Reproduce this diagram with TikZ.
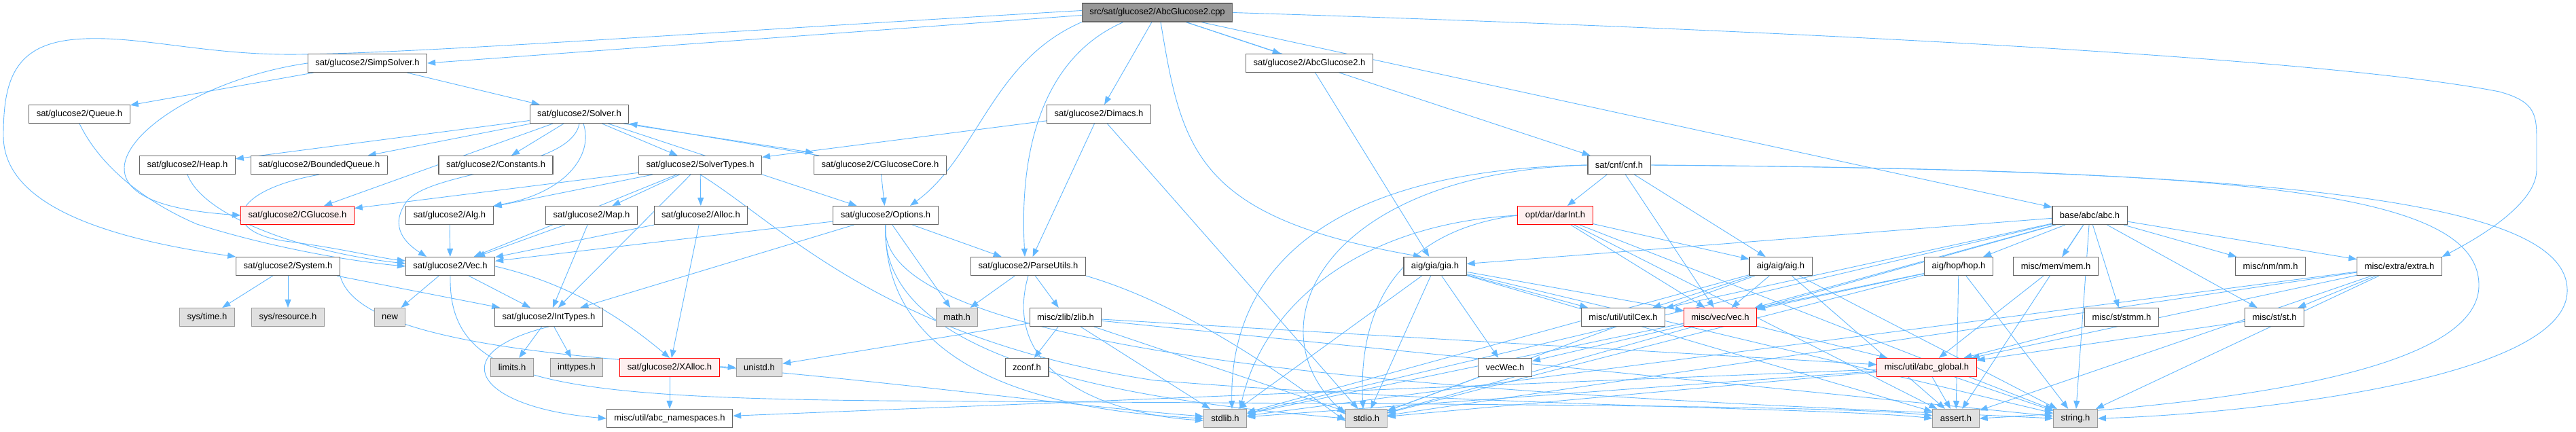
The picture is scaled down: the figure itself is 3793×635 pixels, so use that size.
\documentclass[tikz,border=0pt]{standalone}
\usepackage{fontspec}
\setmainfont{Liberation Sans}
\usetikzlibrary{arrows.meta,backgrounds}

\definecolor{incEdge}{HTML}{63B8FF}
\definecolor{incLine}{HTML}{666666}
\definecolor{incSys}{HTML}{E0E0E0}
\definecolor{incSysLine}{HTML}{999999}
\definecolor{incTrunc}{HTML}{FFF0F0}
\definecolor{incRoot}{HTML}{999999}

\tikzset{
  hdr/.style={
    draw=incLine, fill=white, line width=1.1pt, minimum height=27pt,
    inner xsep=11pt, inner ysep=0pt, font=\fontsize{13}{15}\selectfont
  },
  syshdr/.style={hdr, draw=incSysLine, fill=incSys},
  trunchdr/.style={hdr, draw=red, fill=incTrunc},
  roothdr/.style={hdr, fill=incRoot},
  dep/.style={-{Triangle[length=12pt,width=9pt]}, incEdge, line width=0.9pt}
}

\begin{document}
\begin{tikzpicture}[x=1pt,y=-1pt]
  \useasboundingbox (0,0) rectangle (3793,635);

  % source file
  \node[roothdr] (cpp) at (1704,18.5) {src/sat/glucose2/AbcGlucose2.cpp};

  % glucose2 headers
  \node[hdr] (simp) at (541,93) {sat/glucose2/SimpSolver.h};
  \node[hdr] (abch) at (1928,93) {sat/glucose2/AbcGlucose2.h};
  \node[hdr] (queue) at (117,168) {sat/glucose2/Queue.h};
  \node[hdr] (solver) at (853,168) {sat/glucose2/Solver.h};
  \node[hdr] (dimacs) at (1618,168) {sat/glucose2/Dimacs.h};
  \node[hdr] (heap) at (276,243) {sat/glucose2/Heap.h};
  \node[hdr] (bqueue) at (470,243) {sat/glucose2/BoundedQueue.h};
  \node[hdr] (consts) at (730,243) {sat/glucose2/Constants.h};
  \node[hdr] (stypes) at (1031,243) {sat/glucose2/SolverTypes.h};
  \node[hdr] (core) at (1296,243) {sat/glucose2/CGlucoseCore.h};
  \node[trunchdr] (cgluc) at (438,317) {sat/glucose2/CGlucose.h};
  \node[hdr] (alg) at (662,317) {sat/glucose2/Alg.h};
  \node[hdr] (map) at (871,317) {sat/glucose2/Map.h};
  \node[hdr] (alloc) at (1032,317) {sat/glucose2/Alloc.h};
  \node[hdr] (options) at (1304,317) {sat/glucose2/Options.h};
  \node[hdr] (system) at (424,392) {sat/glucose2/System.h};
  \node[hdr] (vec) at (663,392) {sat/glucose2/Vec.h};
  \node[hdr] (parse) at (1514,392) {sat/glucose2/ParseUtils.h};
  \node[hdr] (itypes) at (808,467) {sat/glucose2/IntTypes.h};
  \node[trunchdr] (xalloc) at (986,541) {sat/glucose2/XAlloc.h};

  % abc headers
  \node[hdr] (cnf) at (2384,243) {sat/cnf/cnf.h};
  \node[trunchdr] (darint) at (2290,317) {opt/dar/darInt.h};
  \node[hdr] (abc) at (3077,317) {base/abc/abc.h};
  \node[hdr] (gia) at (2113,392) {aig/gia/gia.h};
  \node[hdr] (aig) at (2622,392) {aig/aig/aig.h};
  \node[hdr] (hop) at (2884,392) {aig/hop/hop.h};
  \node[hdr] (mem) at (3027,392) {misc/mem/mem.h};
  \node[hdr] (nm) at (3343,392) {misc/nm/nm.h};
  \node[hdr] (extra) at (3533,392) {misc/extra/extra.h};
  \node[hdr] (zlib) at (1569,467) {misc/zlib/zlib.h};
  \node[hdr] (cex) at (2390,467) {misc/util/utilCex.h};
  \node[trunchdr] (vecvec) at (2533,467) {misc/vec/vec.h};
  \node[hdr] (stmm) at (3124,467) {misc/st/stmm.h};
  \node[hdr] (st) at (3349,467) {misc/st/st.h};
  \node[hdr] (zconf) at (1512,541) {zconf.h};
  \node[hdr] (vecwec) at (2216,541) {vecWec.h};
  \node[trunchdr] (global) at (2837,541) {misc/util/abc\_global.h};
  \node[hdr] (ns) at (986,616) {misc/util/abc\_namespaces.h};

  % system headers
  \node[syshdr] (systime) at (305,467) {sys/time.h};
  \node[syshdr] (sysres) at (424,467) {sys/resource.h};
  \node[syshdr] (new) at (574,467) {new};
  \node[syshdr] (math) at (1409,467) {math.h};
  \node[syshdr] (limits) at (754,541) {limits.h};
  \node[syshdr] (inttypes) at (849,541) {inttypes.h};
  \node[syshdr] (unistd) at (1118,541) {unistd.h};
  \node[syshdr] (stdlib) at (1804,616) {stdlib.h};
  \node[syshdr] (stdio) at (2012,616) {stdio.h};
  \node[syshdr] (assert) at (2880,616) {assert.h};
  \node[syshdr] (string) at (3056,616) {string.h};

  \begin{pgfonlayer}{background}
    % AbcGlucose2.cpp
    \draw[dep] ([yshift=-4pt]cpp.west) -- (simp.east);
    \draw[dep] ([yshift=3pt]cpp.west) .. controls (1000,50) and (620,78) .. (440,80)
      .. controls (300,82) and (200,50) .. (110,58) .. controls (20,66) and (5,120) .. (5,200)
      .. controls (5,300) and (150,350) .. (system.north west);
    \draw[dep] (cpp.south west) .. controls (1460,90) and (1440,230) .. ([xshift=36pt]options.north);
    \draw[dep] ([xshift=-50pt]cpp.south) .. controls (1500,100) and (1505,300) .. ([xshift=-5pt]parse.north);
    \draw[dep] (cpp) -- (dimacs);
    \draw[dep] ([xshift=5pt]cpp.south) .. controls (1740,220) and (1760,320) .. ([xshift=-20pt]gia.north);
    \draw[dep] (cpp) -- (abch);
    \draw[dep] (cpp) -- (cnf);
    \draw[dep] (cpp) -- (abc);
    \draw[dep] (cpp.east) .. controls (2500,40) and (3400,80) .. (3680,135)
      .. controls (3735,150) and (3735,170) .. (3735,210) -- (3735,250)
      .. controls (3735,300) and (3650,350) .. (extra.north east);
    \draw[dep] (abch) -- (gia);

    % SimpSolver.h and Solver.h
    \draw[dep] (simp) -- (queue);
    \draw[dep] (simp) -- (solver);
    \draw[dep] (simp.west) .. controls (300,115) and (170,200) .. (184,257)
      .. controls (195,300) and (280,312) .. (cgluc.west);
    \draw[dep] (queue.south) .. controls (150,250) and (220,300) .. (290,330)
      .. controls (400,365) and (520,385) .. (vec.west);
    \draw[dep] (solver) -- (heap);
    \draw[dep] (solver) -- (bqueue);
    \draw[dep] (solver) -- (consts);
    \draw[dep] (solver) -- (stypes);
    \draw[dep] ([xshift=-8pt]solver.south east) -- ([yshift=4pt]core.north west);
    \draw[dep] ([xshift=8pt]core.north west) -- (solver.south east);
    \draw[dep] ([xshift=6pt]solver.south) .. controls (875,230) and (830,285) .. (alg.north east);
    \draw[dep] (solver) -- (options);
    \draw[dep] (solver) -- (cgluc);
    \draw[dep] (solver.south) .. controls (840,250) and (640,250) .. (600,295)
      .. controls (570,335) and (600,360) .. ([xshift=-35pt]vec.north);
    \draw[dep] (core) -- (options);
    \draw[dep] (heap.south) .. controls (300,320) and (450,372) .. ([yshift=4pt]vec.west);
    \draw[dep] (bqueue.south) .. controls (340,280) and (320,340) .. (420,355)
      .. controls (500,365) and (560,380) .. ([yshift=8pt]vec.west);

    % Dimacs.h and SolverTypes.h
    \draw[dep] (dimacs) -- (parse);
    \draw[dep] (dimacs) -- (stypes);
    \draw[dep] (dimacs) -- (stdio);
    \draw[dep] (stypes) -- (itypes);
    \draw[dep] (stypes) -- (alg);
    \draw[dep] (stypes) -- (vec);
    \draw[dep] (stypes) -- (map);
    \draw[dep] (stypes) -- (alloc);
    \draw[dep] (stypes) -- (cgluc);
    \draw[dep] (stypes.south) .. controls (1150,330) and (1300,500) .. (1700,560)
      .. controls (2200,600) and (2700,600) .. (assert.west);
    \draw[dep] (alg) -- (vec);
    \draw[dep] (map) -- (vec);
    \draw[dep] (map) -- (itypes);
    \draw[dep] (alloc) -- (vec);
    \draw[dep] (alloc) -- (xalloc);

    % Options.h and ParseUtils.h
    \draw[dep] (options) -- (itypes);
    \draw[dep] (options) -- (vec);
    \draw[dep] (options) -- (parse);
    \draw[dep] (options) -- (math);
    \draw[dep] (options.south) .. controls (1300,500) and (1450,600) .. (stdlib.west);
    \draw[dep] (options.south) .. controls (1290,540) and (1700,592) .. (stdio.west);
    \draw[dep] (options.south) .. controls (1280,560) and (2500,590) .. (string.west);
    \draw[dep] (parse) -- (math);
    \draw[dep] (parse) -- (zlib);
    \draw[dep] (parse.south) .. controls (1470,560) and (1650,612) .. ([yshift=-3pt]stdlib.west);
    \draw[dep] (parse.south east) .. controls (1750,450) and (1900,560) .. ([yshift=-4pt]stdio.west);
    \draw[dep] (zlib) -- (zconf);
    \draw[dep] (zlib) -- (unistd);
    \draw[dep] (zlib) -- (stdlib);
    \draw[dep] (zlib) -- (stdio);
    \draw[dep] (zlib) -- (global);
    \draw[dep] (zlib) -- (string);

    % System.h, Vec.h, IntTypes.h, XAlloc.h
    \draw[dep] (system) -- (systime);
    \draw[dep] (system) -- (sysres);
    \draw[dep] (system) -- (itypes);
    \draw[dep] (system.south east) .. controls (520,480) and (700,520) .. (unistd.west);
    \draw[dep] (vec) -- (new);
    \draw[dep] (vec) -- (itypes);
    \draw[dep] (vec.east) .. controls (850,420) and (930,480) .. (xalloc.north);
    \draw[dep] (vec.south) .. controls (660,560) and (800,585) .. (1300,590)
      .. controls (2000,595) and (2700,595) .. ([yshift=4pt]assert.west);
    \draw[dep] (itypes) -- (limits);
    \draw[dep] (itypes) -- (inttypes);
    \draw[dep] (itypes.south) .. controls (650,520) and (700,600) .. (ns.west);
    \draw[dep] (xalloc) -- (ns);
    \draw[dep] (xalloc.east) .. controls (1300,560) and (1600,600) .. ([yshift=3pt]stdlib.west);

    % cnf.h and darInt.h
    \draw[dep] (cnf) -- (darint);
    \draw[dep] (cnf) -- (vecvec);
    \draw[dep] (cnf) -- (aig);
    \draw[dep] (cnf.west) .. controls (1950,255) and (1840,480) .. ([yshift=6pt]stdio.west);
    \draw[dep] (cnf.west) .. controls (1950,250) and (1810,400) .. ([xshift=10pt]stdlib.north);
    \draw[dep] (cnf.east) .. controls (3300,250) and (3650,280) .. (3650,420)
      .. controls (3650,560) and (3200,600) .. (assert.east);
    \draw[dep] (cnf.east) .. controls (3400,250) and (3785,300) .. (3780,430)
      .. controls (3775,560) and (3300,610) .. (string.east);
    \draw[dep] (darint.west) .. controls (2060,340) and (2000,450) .. ([xshift=-5pt]stdio.north);
    \draw[dep] (darint.west) .. controls (2000,330) and (1860,450) .. ([xshift=22pt]stdlib.north);
    \draw[dep] (darint) -- (string);
    \draw[dep] (darint) -- (assert);
    \draw[dep] (darint) -- (vecvec);
    \draw[dep] (darint) -- (aig);

    % gia.h, aig.h, hop.h
    \draw[dep] (gia) -- (stdlib);
    \draw[dep] (gia) -- (stdio);
    \draw[dep] (gia) -- (assert);
    \draw[dep] (gia) -- (string);
    \draw[dep] (gia) -- (vecwec);
    \draw[dep] (gia) -- (vecvec);
    \draw[dep] (gia) -- (cex);
    \draw[dep] (aig) -- (vecvec);
    \draw[dep] (aig) -- (cex);
    \draw[dep] (aig) -- (stdio);
    \draw[dep] (aig) -- (stdlib);
    \draw[dep] (aig) -- (string);
    \draw[dep] (aig) -- (assert);
    \draw[dep] (hop) -- (vecvec);
    \draw[dep] (hop) -- (stdio);
    \draw[dep] (hop) -- (stdlib);
    \draw[dep] (hop) -- (string);
    \draw[dep] (hop) -- (assert);

    % abc.h
    \draw[dep] (abc) -- (gia);
    \draw[dep] (abc) -- (vecvec);
    \draw[dep] (abc) -- (cex);
    \draw[dep] (abc) -- (hop);
    \draw[dep] (abc) -- (mem);
    \draw[dep] (abc) -- (stmm);
    \draw[dep] (abc) -- (nm);
    \draw[dep] (abc) -- (extra);
    \draw[dep] (abc) -- (st);
    \draw[dep] (abc) -- (stdio);
    \draw[dep] (abc) -- (stdlib);
    \draw[dep] (abc) -- (string);
    \draw[dep] (abc) -- (assert);

    % misc headers
    \draw[dep] (mem) -- (global);
    \draw[dep] (stmm) -- (global);
    \draw[dep] (st) -- (global);
    \draw[dep] (extra) -- (st);
    \draw[dep] (extra) -- (global);
    \draw[dep] (extra) -- (stdio);
    \draw[dep] (extra) -- (stdlib);
    \draw[dep] (extra) -- (string);
    \draw[dep] (extra) -- (assert);
    \draw[dep] (vecvec) -- (vecwec);
    \draw[dep] (vecvec) -- (global);
    \draw[dep] (vecwec) -- (stdio);
    \draw[dep] (global) -- (ns);
    \draw[dep] (global) -- (stdio);
    \draw[dep] (global) -- (stdlib);
    \draw[dep] (global) -- (assert);
    \draw[dep] (global) -- (string);
  \end{pgfonlayer}
\end{tikzpicture}
\end{document}
